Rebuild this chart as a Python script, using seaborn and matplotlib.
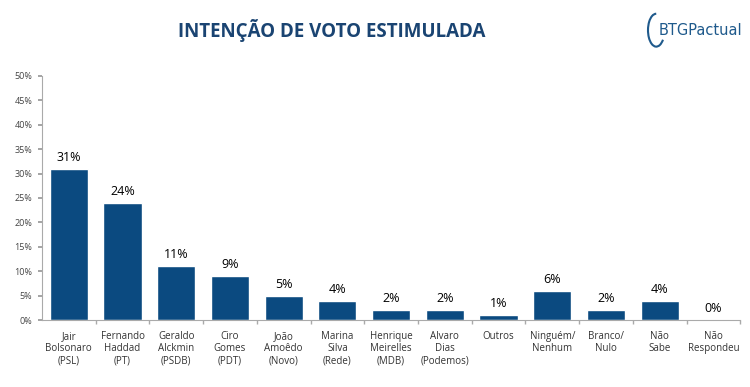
import matplotlib
import matplotlib.pyplot as plt
import matplotlib.ticker as mticker
from matplotlib.patches import Arc
import pandas as pd
import seaborn as sns

matplotlib.use("agg")

categories = [
    "Jair\nBolsonaro\n(PSL)",
    "Fernando\nHaddad\n(PT)",
    "Geraldo\nAlckmin\n(PSDB)",
    "Ciro\nGomes\n(PDT)",
    "João\nAmoêdo\n(Novo)",
    "Marina\nSilva\n(Rede)",
    "Henrique\nMeirelles\n(MDB)",
    "Alvaro\nDias\n(Podemos)",
    "Outros",
    "Ninguém/\nNenhum",
    "Branco/\nNulo",
    "Não\nSabe",
    "Não\nRespondeu",
]
values = [31, 24, 11, 9, 5, 4, 2, 2, 1, 6, 2, 4, 0]

bar_color = "#0B4A80"
title_color = "#1A4472"

sns.set_theme(style="white")
plt.rcParams["font.family"] = ["Open Sans", "DejaVu Sans"]

df = pd.DataFrame({"categoria": categories, "valor": values})

fig = plt.figure(figsize=(7.5, 3.87), dpi=100)
ax = fig.add_axes([0.056, 0.173, 0.931, 0.631])

sns.barplot(data=df, x="categoria", y="valor", color=bar_color,
            width=0.71, saturation=1, ax=ax)

for i, v in enumerate(values):
    ax.text(i, v + 1.0, f"{v}%", ha="center", va="bottom",
            fontsize=9, color="black")

ax.set_ylim(0, 50)
ax.set_xlim(-0.5, len(categories) - 0.5)
ax.yaxis.set_major_locator(mticker.MultipleLocator(5))
ax.yaxis.set_major_formatter(mticker.FuncFormatter(lambda v, _: f"{int(v)}%"))
# small marks between categories, as in the original
ax.xaxis.set_minor_locator(mticker.FixedLocator([i + 0.5 for i in range(len(categories))]))
ax.set_xlabel("")
ax.set_ylabel("")
ax.tick_params(axis="y", labelsize=6.5, labelcolor="#444444", length=3,
               color="#999999", left=True, pad=4)
ax.tick_params(axis="x", which="major", labelsize=7, labelcolor="#333333",
               length=0, pad=8)
ax.tick_params(axis="x", which="minor", length=3, color="#AAAAAA", bottom=True)
for lbl in ax.get_xticklabels():
    lbl.set_linespacing(1.15)

sns.despine(ax=ax)
for s in ("left", "bottom"):
    ax.spines[s].set_color("#AAAAAA")
    ax.spines[s].set_linewidth(0.8)

fig.text(0.442, 0.922, "INTENÇÃO DE VOTO ESTIMULADA", ha="center", va="center",
         fontsize=13.5, fontweight="bold", color=title_color)

# logo
fig.text(0.878, 0.922, "BTGPactual", ha="left", va="center",
         fontsize=10.5, color="#1F5A8C", family=["Liberation Sans Narrow", "DejaVu Sans"])
logo = Arc((0.875, 0.922), 0.022, 0.085, theta1=90, theta2=290,
           transform=fig.transFigure, color="#1F5A8C", lw=1.5)
fig.add_artist(logo)

fig.savefig("out.png", dpi=100)
